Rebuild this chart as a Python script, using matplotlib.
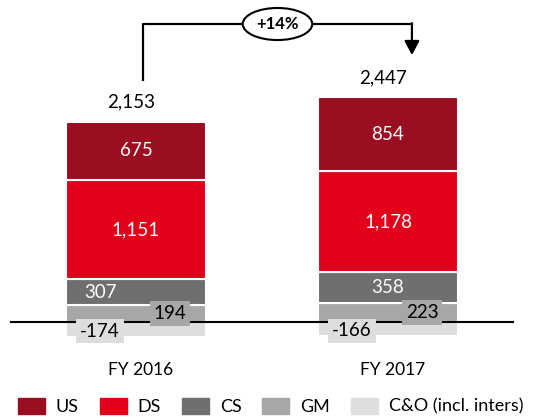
import matplotlib.pyplot as plt
from matplotlib.patches import Patch
import numpy as np

plt.rcParams['font.family'] = ['Lato', 'DejaVu Sans']

years = ['FY 2016', 'FY 2017']
us = [675, 854]
ds = [1151, 1178]
cs = [307, 358]
gm = [194, 223]
co = [-174, -166]
totals = ['2,153', '2,447']
growth = '+14%'

colors = {'US': '#9b0d20', 'DS': '#e2001a', 'CS': '#6f6f6f',
          'GM': '#a7a7a7', 'C&O (incl. inters)': '#dedede'}

fig = plt.figure(figsize=(5.54, 4.2), dpi=100)
# axes spans full height, scale ~0.086 px per unit, zero at y=322px
ax = fig.add_axes([10 / 554, 0, 504 / 554, 1])
ax.set_xlim(-0.5, 1.5)
ax.set_ylim(-98 / 0.086, 322 / 0.086)
ax.axis('off')

x = np.arange(len(years))
w = 0.556
gm_a, cs_a, ds_a, us_a, co_a = map(np.array, (gm, cs, ds, us, co))
ax.bar(x, co_a, w, color=colors['C&O (incl. inters)'], edgecolor='white', lw=1.5)
ax.bar(x, gm_a, w, color=colors['GM'], edgecolor='white', lw=1.5)
ax.bar(x, cs_a, w, bottom=gm_a, color=colors['CS'], edgecolor='white', lw=1.5)
ax.bar(x, ds_a, w, bottom=gm_a + cs_a, color=colors['DS'], edgecolor='white', lw=1.5)
ax.bar(x, us_a, w, bottom=gm_a + cs_a + ds_a, color=colors['US'], edgecolor='white', lw=1.5)
ax.axhline(0, color='black', lw=1.5, zorder=3)

fs = 13.5
for i in range(len(years)):
    # CS label is shifted left in the first bar
    cs_dx = -0.14 if i == 0 else 0
    ax.text(i, gm_a[i] + cs_a[i] + ds_a[i] + us_a[i] / 2, f'{us[i]:,}',
            ha='center', va='center', color='white', fontsize=fs)
    ax.text(i, gm_a[i] + cs_a[i] + ds_a[i] / 2, f'{ds[i]:,}',
            ha='center', va='center', color='white', fontsize=fs)
    ax.text(i + cs_dx, gm_a[i] + cs_a[i] / 2, f'{cs[i]:,}',
            ha='center', va='center', color='white', fontsize=fs)
    ax.text(i + 0.135, gm_a[i] / 2, f'{gm[i]:,}', ha='center', va='center',
            color='black', fontsize=fs, zorder=5,
            bbox=dict(boxstyle='square,pad=0.2', fc=colors['GM'], ec='none'))
    ax.text(i - 0.143, co_a[i] / 2 - 20, f'{co[i]:,}', ha='center', va='center',
            color='black', fontsize=fs, zorder=5,
            bbox=dict(boxstyle='square,pad=0.2', fc=colors['C&O (incl. inters)'], ec='none'))
    top = gm_a[i] + cs_a[i] + ds_a[i] + us_a[i]
    ax.text(i - 0.02, top + 230, totals[i], ha='center', va='center',
            color='black', fontsize=fs)
    ax.text(i + 0.02, -560, years[i], ha='center', va='center',
            color='black', fontsize=12.5)

# growth arrow
top0 = gm_a[0] + cs_a[0] + ds_a[0] + us_a[0]
top1 = gm_a[1] + cs_a[1] + ds_a[1] + us_a[1]
y_line = 3465
x0, x1 = 0.028, 1.095
ax.plot([x0, x0, x1], [top0 + 490, y_line, y_line], color='black', lw=1.6)
ax.annotate('', xy=(x1, top1 + 490), xytext=(x1, y_line + 9),
            arrowprops=dict(arrowstyle='-|>,head_length=0.85,head_width=0.45',
                            color='black', lw=1.6, shrinkA=0, shrinkB=0))
ax.text((x0 + x1) / 2, y_line, growth, ha='center', va='center',
        fontsize=12, fontweight='bold',
        bbox=dict(boxstyle='ellipse,pad=0.2', fc='white', ec='black', lw=1.5))

handles = [Patch(color=c) for c in colors.values()]
fig.legend(handles, list(colors.keys()), loc='center left',
           bbox_to_anchor=(18 / 554, 0.033), ncol=5, frameon=False,
           fontsize=13, handlelength=1.5, handleheight=1.0,
           handletextpad=0.6, columnspacing=1.15, borderpad=0, borderaxespad=0)

fig.savefig('out.png', dpi=100)
